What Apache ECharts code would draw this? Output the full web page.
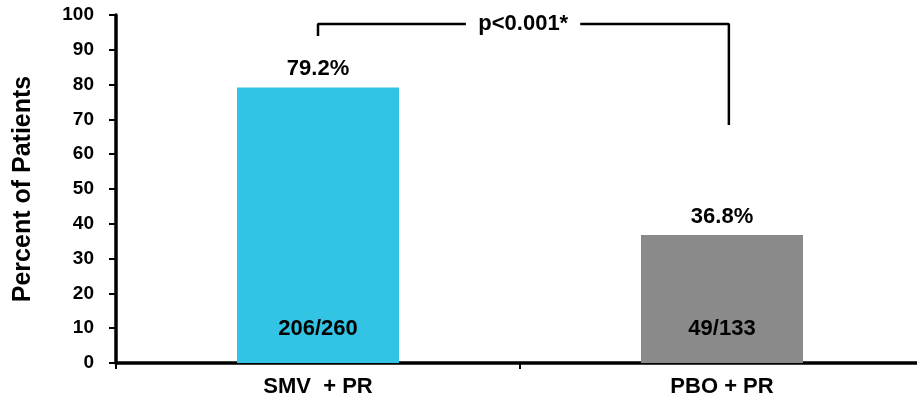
<!DOCTYPE html>
<html>
<head>
<meta charset="utf-8">
<script src="https://cdn.jsdelivr.net/npm/echarts@6/dist/echarts.min.js"></script>
<style>
  html, body { margin: 0; padding: 0; background: #fff; }
  #chart { width: 917px; height: 402px; }
</style>
</head>
<body>
<div id="chart"></div>
<script>
// Response rates by treatment arm
const categories = ['SMV  + PR', 'PBO + PR'];
const percentValues = [79.2, 36.8];
const patientCounts = ['206/260', '49/133'];
const barColors = ['#33C3E5', '#8A8A8A'];
const yTicks = { min: 0, max: 100, interval: 10 };

// Significance bracket between the two arms (x on a 0..2 band scale, y in percent);
// the null leaves a gap in the top rule for the p-value text
const bracketX = [0.5, 0.5, 0.866, null, 1.149, 1.517, 1.517];
const bracketY = [94, 97.4, 97.4, null, 97.4, 97.4, 68.4];
const bracketLabel = 'p<0.001*';
const bracketLabelPos = [1.008, 97.4];

const font = 'Arial, "Liberation Sans", sans-serif';

const chart = echarts.init(document.getElementById('chart'));
chart.setOption({
  animation: false,
  grid: { left: 116, width: 808, top: 15, bottom: 39, containLabel: false, outerBoundsMode: 'none' },
  xAxis: [
    {
      type: 'category',
      data: categories,
      axisLine: { lineStyle: { color: '#000', width: 3.5 } },
      axisTick: { show: true, length: 6, lineStyle: { color: '#000', width: 2 } },
      axisLabel: { color: '#000', fontFamily: font, fontWeight: 'bold', fontSize: 22, margin: 13 }
    },
    {
      type: 'value', min: 0, max: 2, show: false, position: 'bottom'
    }
  ],
  yAxis: {
    type: 'value',
    min: yTicks.min, max: yTicks.max, interval: yTicks.interval,
    name: 'Percent of Patients',
    nameLocation: 'middle',
    nameGap: 80,
    nameRotate: 90,
    nameTextStyle: { color: '#000', fontFamily: font, fontWeight: 'bold', fontSize: 25 },
    axisLine: { show: true, lineStyle: { color: '#000', width: 3.5 } },
    axisTick: { show: true, length: 7, lineStyle: { color: '#000', width: 2 } },
    splitLine: { show: false },
    axisLabel: { color: '#000', fontFamily: font, fontWeight: 'bold', fontSize: 19, margin: 22 }
  },
  series: [
    {
      type: 'bar',
      barWidth: 162,
      data: percentValues.map((v, i) => ({ value: v, itemStyle: { color: barColors[i] } })),
      label: {
        show: true,
        position: 'top',
        distance: 7,
        formatter: p => p.value.toFixed(1) + '%',
        color: '#000', fontFamily: font, fontWeight: 'bold', fontSize: 22
      }
    },
    {
      type: 'bar',
      barWidth: 162,
      barGap: '-100%',
      silent: true,
      data: percentValues.map(v => ({ value: v, itemStyle: { color: 'transparent' } })),
      label: {
        show: true,
        position: 'insideBottom',
        distance: 23,
        formatter: p => patientCounts[p.dataIndex],
        color: '#000', fontFamily: font, fontWeight: 'bold', fontSize: 22
      },
      z: 3
    },
    {
      type: 'line',
      xAxisIndex: 1,
      data: bracketX.map((x, i) => (x === null ? [null, null] : [x, bracketY[i]])),
      connectNulls: false,
      symbol: 'none',
      lineStyle: { color: '#000', width: 2.5 },
      z: 4
    },
    {
      type: 'scatter',
      xAxisIndex: 1,
      data: [bracketLabelPos],
      symbolSize: 1,
      itemStyle: { color: 'transparent', opacity: 1 },
      z: 5,
      label: {
        show: true,
        position: 'inside',
        formatter: bracketLabel,
        color: '#000', fontFamily: font, fontWeight: 'bold', fontSize: 22
      }
    }
  ]
});
</script>
</body>
</html>
